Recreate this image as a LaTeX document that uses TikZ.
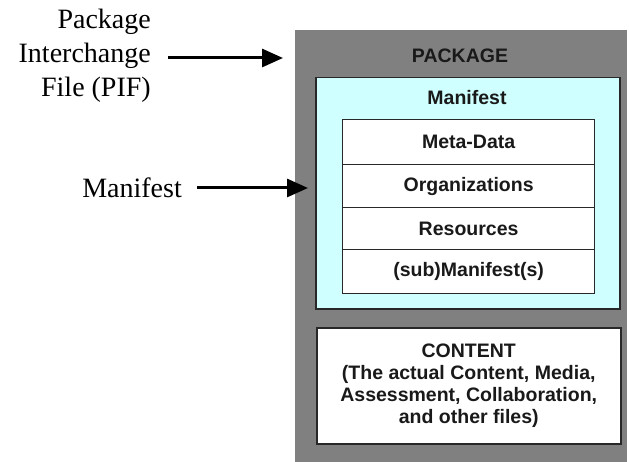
\documentclass[tikz,border=0pt]{standalone}
\usepackage{fontspec}
\setmainfont{Liberation Serif}
\newfontfamily\boxfont{Liberation Sans}
\usetikzlibrary{arrows.meta}
\definecolor{pkggray}{RGB}{128,128,128}
\definecolor{mancyan}{RGB}{208,255,255}
\definecolor{edgegray}{RGB}{40,40,40}
\tikzset{
  boxtext/.style={font=\boxfont\bfseries\fontsize{19.5}{22}\selectfont, text=black!90},
  sidetext/.style={font=\fontsize{28}{34}\selectfont, align=right, anchor=east, inner sep=0pt},
  pointer/.style={line width=3pt, -{Triangle[length=21pt,width=18pt]}},
  rowbox/.style={draw=edgegray, line width=1.2pt, fill=white, minimum width=252pt, inner sep=0pt},
}
\begin{document}
\begin{tikzpicture}[x=1pt,y=-1pt]
\useasboundingbox (0,0) rectangle (629,462);
% package
\node[fill=pkggray, minimum width=332pt, minimum height=432pt, inner sep=0pt, anchor=north west] (package) at (295,30) {};
\node[boxtext] (pkglabel) at (460,56) {PACKAGE};
% manifest box
\node[draw=edgegray, line width=1.5pt, fill=mancyan, minimum width=304pt, minimum height=231pt, inner sep=0pt, anchor=north west] (manbox) at (315,77) {};
\node[boxtext] (manlabel) at (467,98) {Manifest};
% rows
\node[rowbox, minimum height=45pt, anchor=north west, boxtext] (meta) at (342,119) {Meta-Data};
\node[rowbox, minimum height=43pt, anchor=north west, boxtext] (org) at (342,164) {Organizations};
\node[rowbox, minimum height=42pt, anchor=north west, boxtext] (res) at (342,207) {Resources};
\node[rowbox, minimum height=44pt, anchor=north west, boxtext] (sub) at (342,249) {(sub)Manifest(s)};
% content
\node[draw=edgegray, line width=1.5pt, fill=white, minimum width=304pt, minimum height=116pt, inner sep=0pt, anchor=north west, boxtext, align=center] (content) at (316,327) {CONTENT\\(The actual Content, Media,\\Assessment, Collaboration,\\and other files)};
% side labels
\node[sidetext] (pif) at (151,56) {Package\\Interchange\\File (PIF)};
\node[sidetext] (mlabel) at (182,188) {Manifest};
\draw[pointer] ([xshift=17pt]pif.east |- 0,58) -- ([xshift=-12pt]package.west |- 0,58);
\draw[pointer] ([xshift=15pt]mlabel.east) -- ([xshift=-7pt]manbox.west |- mlabel.east);
\end{tikzpicture}
\end{document}
